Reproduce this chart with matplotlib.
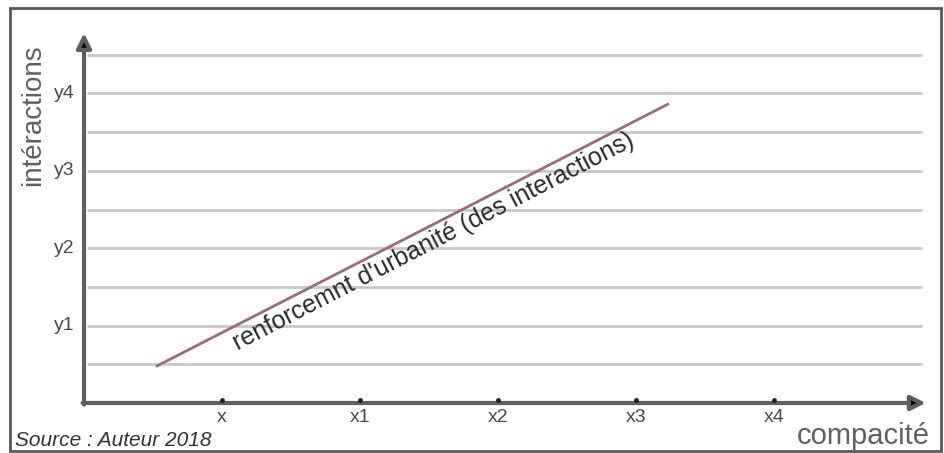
import matplotlib.pyplot as plt
from matplotlib.patches import Rectangle

plt.rcParams['font.family'] = ['Liberation Sans', 'DejaVu Sans']

# data
x_ticks = [1, 2, 3, 4, 5]
x_labels = ['x', 'x1', 'x2', 'x3', 'x4']
y_ticks = [1, 2, 3, 4]
y_labels = ['y1', 'y2', 'y3', 'y4']
grid_levels = [0.5, 1, 1.5, 2, 2.5, 3, 3.5, 4, 4.5]
line_x = [0.53, 4.23]
line_y = [0.48, 3.86]

fig = plt.figure(figsize=(9.44, 4.53), dpi=100)
ax = fig.add_axes([0, 0, 1, 1])
ax.set_xlim(-0.609, 6.232)
ax.set_ylim(-0.646, 5.207)
ax.axis('off')

# outer frame
fig.patches.append(Rectangle((10 / 944, 2 / 453), 931 / 944, 443 / 453,
                             transform=fig.transFigure, fill=False,
                             edgecolor='#5a5a5a', linewidth=2))

# grid
ax.hlines(grid_levels, 0.02, 6.07, color='#c8c8c8', linewidth=2, zorder=1)

# axes with arrows
arrow_style = dict(arrowstyle='-|>', lw=3, mutation_scale=22,
                   shrinkA=0, shrinkB=0, fc='black', ec='#5e5e5e')
ax.annotate('', xy=(0, 4.78), xytext=(0, -0.02), arrowprops=arrow_style, zorder=3)
ax.annotate('', xy=(6.1, 0), xytext=(-0.01, 0), arrowprops=arrow_style, zorder=3)

# small ticks on x axis
ax.plot(x_ticks, [0.045] * len(x_ticks), linestyle='none', marker='o',
        markersize=2.5, color='#222222', zorder=4)

for xv, lab in zip(x_ticks, x_labels):
    ax.text(xv, -0.08, lab, ha='center', va='top', fontsize=14, color='#4a4a4a')
for yv, lab in zip(y_ticks, y_labels):
    ax.text(-0.065, yv, lab, ha='right', va='center', fontsize=14, color='#4a4a4a')

# main line
ax.plot(line_x, line_y, color='#9a6b7f', linewidth=2, zorder=2)
ax.text(2.555, 2.0, "renforcemnt d'urbanité (des interactions)", rotation=27.3,
        rotation_mode='anchor', ha='center', va='baseline', fontsize=18,
        color='#2a2a2a')

# axis titles
ax.text(-0.37, 3.72, 'intéractions', rotation=90, ha='center', va='center',
        fontsize=20, color='#606060')
ax.text(6.13, -0.42, 'compacité', ha='right', va='center', fontsize=21,
        color='#606060')
ax.text(-0.5, -0.48, 'Source : Auteur 2018', ha='left', va='center',
        fontsize=15, style='italic', color='#333333')

fig.savefig('out.png', dpi=100)
